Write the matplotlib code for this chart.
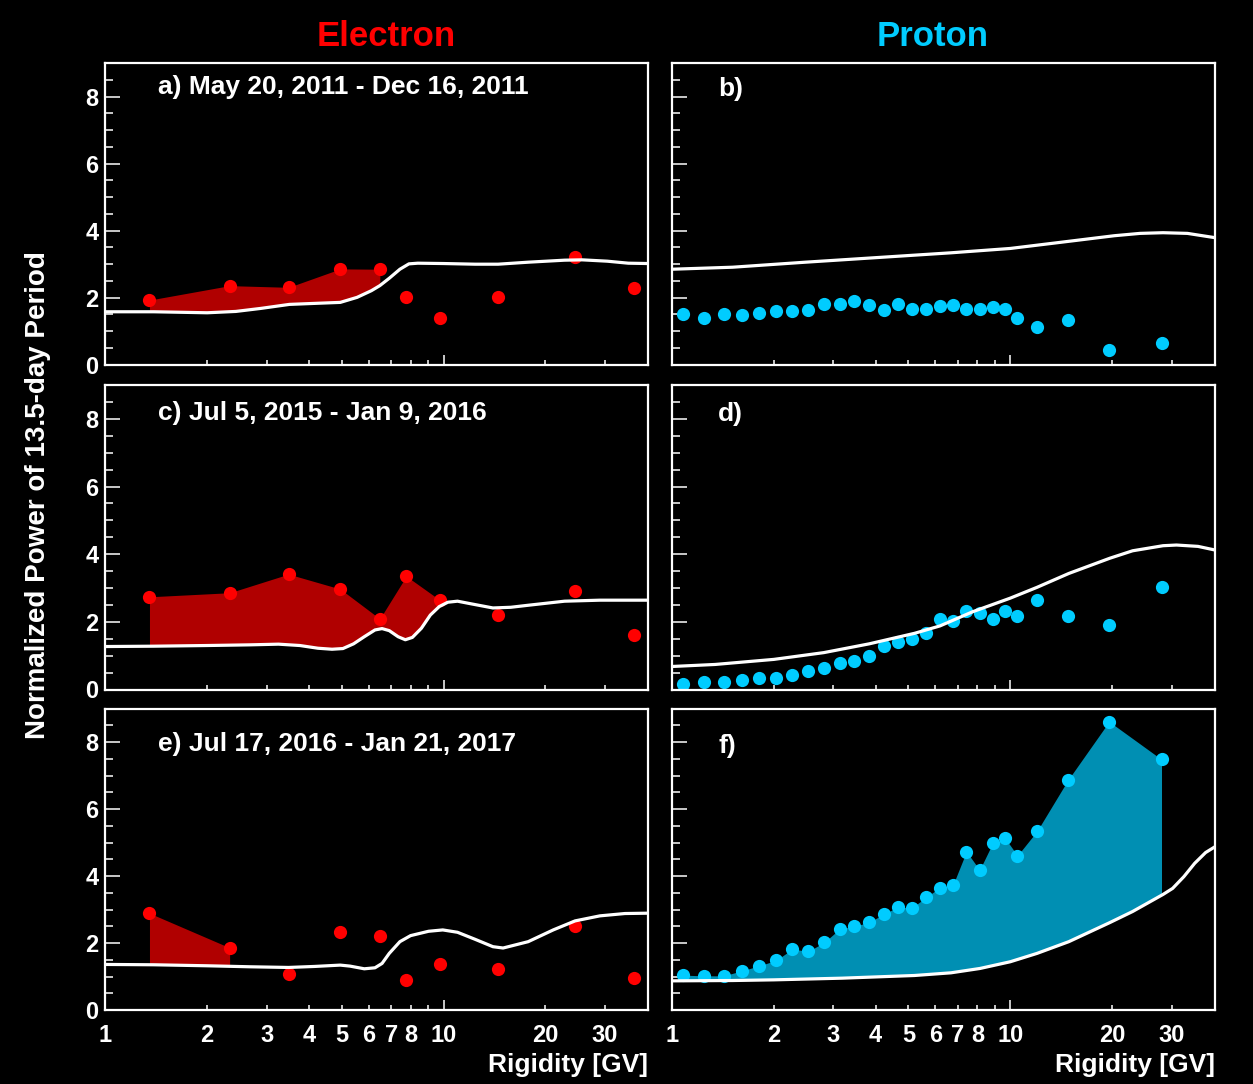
import numpy as np
import matplotlib
matplotlib.use("Agg")
import matplotlib.pyplot as plt

plt.rcParams['font.family'] = ['Liberation Sans', 'DejaVu Sans']
plt.rcParams['font.weight'] = 'bold'

# Rigidity bin centres [GV]
electron_rigidity = [1.35, 2.33, 3.48, 4.95, 6.48, 7.76, 9.73, 14.5, 24.5, 36.5]
proton_rigidity = [1.08, 1.24, 1.42, 1.61, 1.81, 2.03, 2.27, 2.53, 2.82, 3.13,
                   3.46, 3.83, 4.22, 4.65, 5.12, 5.63, 6.18, 6.77, 7.42, 8.12,
                   8.87, 9.67, 10.5, 12.0, 14.8, 19.6, 28.0]

# Normalized power of the 13.5-day period
electron_a = [1.93, 2.36, 2.31, 2.86, 2.85, 2.03, 1.40, 2.02, 3.22, 2.29]
electron_c = [2.74, 2.86, 3.41, 2.97, 2.09, 3.35, 2.65, 2.19, 2.91, 1.62]
electron_e = [2.89, 1.86, 1.07, 2.32, 2.21, 0.90, 1.38, 1.22, 2.52, 0.97]
proton_b = [1.52, 1.40, 1.50, 1.47, 1.53, 1.60, 1.60, 1.63, 1.80, 1.82,
            1.90, 1.77, 1.63, 1.80, 1.67, 1.67, 1.76, 1.77, 1.65, 1.65,
            1.71, 1.65, 1.40, 1.13, 1.32, 0.45, 0.64]
proton_d = [0.16, 0.21, 0.22, 0.28, 0.33, 0.33, 0.43, 0.55, 0.64, 0.78,
            0.85, 0.98, 1.29, 1.39, 1.48, 1.68, 2.07, 2.02, 2.32, 2.27,
            2.07, 2.33, 2.16, 2.66, 2.16, 1.91, 3.04]
proton_f = [1.04, 1.02, 1.02, 1.17, 1.32, 1.48, 1.82, 1.75, 2.02, 2.42,
            2.50, 2.62, 2.86, 3.07, 3.05, 3.36, 3.65, 3.73, 4.73, 4.18,
            4.98, 5.12, 4.61, 5.34, 6.86, 8.61, 7.48]

# 99% confidence level curves
level_a_x = [1.0, 1.39, 2.0, 2.43, 2.88, 3.50, 4.15, 4.95, 5.55, 6.12, 6.48,
             6.91, 7.43, 7.90, 8.39, 10.0, 12.4, 14.5, 17.8, 22.8, 25.7,
             30.5, 35.2, 40.3]
level_a_y = [1.58, 1.58, 1.55, 1.59, 1.68, 1.80, 1.83, 1.86, 2.01, 2.21, 2.36,
             2.58, 2.85, 3.01, 3.03, 3.02, 3.00, 3.00, 3.06, 3.12, 3.13,
             3.09, 3.03, 3.02]
level_c_x = [1.0, 1.39, 2.0, 2.68, 3.25, 3.76, 4.25, 4.68, 5.04, 5.42, 5.83,
             6.27, 6.58, 6.91, 7.34, 7.71, 8.09, 8.60, 9.14, 9.71, 10.3,
             11.0, 12.1, 14.0, 15.8, 17.8, 22.8, 29.0, 40.3]
level_c_y = [1.27, 1.28, 1.30, 1.32, 1.34, 1.30, 1.22, 1.19, 1.21, 1.35, 1.56,
             1.76, 1.80, 1.74, 1.56, 1.47, 1.54, 1.81, 2.20, 2.45, 2.58,
             2.61, 2.53, 2.41, 2.43, 2.49, 2.61, 2.64, 2.64]
level_e_x = [1.0, 1.39, 2.0, 2.68, 3.48, 4.15, 4.95, 5.29, 5.83, 6.27, 6.58,
             6.91, 7.43, 7.99, 9.03, 9.95, 11.0, 12.4, 14.0, 15.0, 17.8,
             21.1, 24.5, 29.0, 34.4, 40.3]
level_e_y = [1.36, 1.35, 1.32, 1.29, 1.27, 1.30, 1.34, 1.31, 1.23, 1.26, 1.39,
             1.69, 2.04, 2.22, 2.35, 2.39, 2.32, 2.11, 1.89, 1.85, 2.04,
             2.39, 2.66, 2.81, 2.88, 2.89]
level_b_x = [1.0, 1.51, 2.48, 4.07, 6.68, 10.0, 14.0, 20.3, 24.2, 28.3, 33.4, 40.4]
level_b_y = [2.85, 2.91, 3.06, 3.20, 3.34, 3.47, 3.65, 3.85, 3.92, 3.94, 3.92, 3.79]
level_d_x = [1.0, 1.34, 2.0, 2.81, 3.83, 5.21, 6.20, 7.75, 10.0, 12.0, 14.9,
             19.7, 23.0, 28.3, 31.0, 35.9, 40.4]
level_d_y = [0.68, 0.74, 0.89, 1.09, 1.35, 1.66, 1.88, 2.30, 2.70, 3.02, 3.43,
             3.88, 4.10, 4.25, 4.27, 4.23, 4.12]
level_f_x = [1.0, 1.51, 2.0, 3.18, 5.21, 6.68, 8.14, 10.0, 12.0, 14.9, 19.7,
             23.0, 28.3, 30.2, 32.6, 35.1, 37.8, 40.4]
level_f_y = [0.87, 0.88, 0.90, 0.95, 1.03, 1.11, 1.24, 1.44, 1.69, 2.04, 2.61,
             2.94, 3.45, 3.63, 3.98, 4.38, 4.70, 4.88]

# number of leading points whose excess over the curve is shaded
fill_a, fill_c, fill_e = 5, 7, 2
fill_b, fill_d, fill_f = 0, 0, 27

RED = '#ff0000'
RED_FILL = '#b00000'
CYAN = '#00ccff'
CYAN_FILL = '#008fb3'

W, H = 1253, 1084
fig = plt.figure(figsize=(W / 100, H / 100), dpi=100, facecolor='black')

cols = [(105.4, 542.8), (672.0, 543.0)]
rows = [(364.7, 63.2), (689.5, 385.0), (1010.0, 708.5)]


def make_axes(col, row):
    x0, w = cols[col]
    ybot, ytop = rows[row]
    return fig.add_axes([x0 / W, 1 - ybot / H, w / W, (ybot - ytop) / H])


def draw_panel(ax, x, y, cx, cy, color, fill_color, n_fill, label, label_y,
               bottom, left):
    ax.set_facecolor('black')
    ax.set_xscale('log')
    ax.set_xlim(1, 40.3)
    ax.set_ylim(0, 9)
    x = np.asarray(x)
    y = np.asarray(y)
    cx = np.asarray(cx)
    cy = np.asarray(cy)

    if n_fill:
        xs = x[:n_fill]
        grid = np.union1d(xs, cx[(cx > xs[0]) & (cx < xs[-1])])
        top = np.interp(np.log10(grid), np.log10(xs), y[:n_fill])
        bot = np.interp(np.log10(grid), np.log10(cx), cy)
        ax.fill_between(grid, bot, top, color=fill_color, lw=0, zorder=1)

    ax.plot(x, y, 'o', color=color, ms=9.5, mec='none', zorder=2)
    ax.plot(cx, cy, color='white', lw=2.3, zorder=3, solid_capstyle='butt',
            solid_joinstyle='round')

    for s in ax.spines.values():
        s.set_color('white')
        s.set_linewidth(1.6)

    ax.set_yticks([0, 2, 4, 6, 8])
    ax.set_yticks(np.arange(0, 9.01, 0.5), minor=True)
    ax.set_xticks([1, 10])
    ax.set_xticks([2, 3, 4, 5, 6, 7, 8, 9, 20, 30], minor=True)
    if bottom:
        ax.set_xticklabels(['1', '10'])
        ax.set_xticklabels(['2', '3', '4', '5', '6', '7', '8', '', '20', '30'],
                           minor=True)
    ax.tick_params(axis='both', which='both', direction='in', colors='white',
                   width=1.1, top=False, right=False, labelsize=17,
                   labelbottom=bottom, labelleft=left)
    ax.tick_params(axis='y', which='major', length=11, pad=5)
    ax.tick_params(axis='y', which='minor', length=5.5)
    ax.tick_params(axis='x', which='major', length=7.2, pad=10)
    ax.tick_params(axis='x', which='minor', length=3.6, pad=10)

    ax.text(0.096 if left else 0.085, label_y, label, color='white',
            fontsize=19, ha='left', va='center',
            transform=ax.get_yaxis_transform())


panels = [
    (0, 0, electron_rigidity, electron_a, level_a_x, level_a_y, RED, RED_FILL,
     fill_a, 'a) May 20, 2011 - Dec 16, 2011', 8.28),
    (1, 0, proton_rigidity, proton_b, level_b_x, level_b_y, CYAN, CYAN_FILL,
     fill_b, 'b)', 8.23),
    (0, 1, electron_rigidity, electron_c, level_c_x, level_c_y, RED, RED_FILL,
     fill_c, 'c) Jul 5, 2015 - Jan 9, 2016', 8.16),
    (1, 1, proton_rigidity, proton_d, level_d_x, level_d_y, CYAN, CYAN_FILL,
     fill_d, 'd)', 8.13),
    (0, 2, electron_rigidity, electron_e, level_e_x, level_e_y, RED, RED_FILL,
     fill_e, 'e) Jul 17, 2016 - Jan 21, 2017', 7.93),
    (1, 2, proton_rigidity, proton_f, level_f_x, level_f_y, CYAN, CYAN_FILL,
     fill_f, 'f)', 7.88),
]

for col, row, x, y, cx, cy, c, fc, nf, lab, ly in panels:
    ax = make_axes(col, row)
    draw_panel(ax, x, y, cx, cy, c, fc, nf, lab, ly, bottom=(row == 2),
               left=(col == 0))

fig.text(386.5 / W, 1 - 36 / H, 'Electron', color=RED, fontsize=25,
         ha='center', va='center')
fig.text(933 / W, 1 - 36 / H, 'Proton', color=CYAN, fontsize=25,
         ha='center', va='center')
fig.text(38 / W, 1 - 495.5 / H, 'Normalized Power of 13.5-day Period',
         color='white', fontsize=20, rotation=90, ha='center', va='center')
fig.text(647.5 / W, 1 - 1065 / H, 'Rigidity [GV]', color='white', fontsize=19,
         ha='right', va='center')
fig.text(1215 / W, 1 - 1065 / H, 'Rigidity [GV]', color='white', fontsize=19,
         ha='right', va='center')

fig.savefig('out.png', dpi=100, facecolor='black')
